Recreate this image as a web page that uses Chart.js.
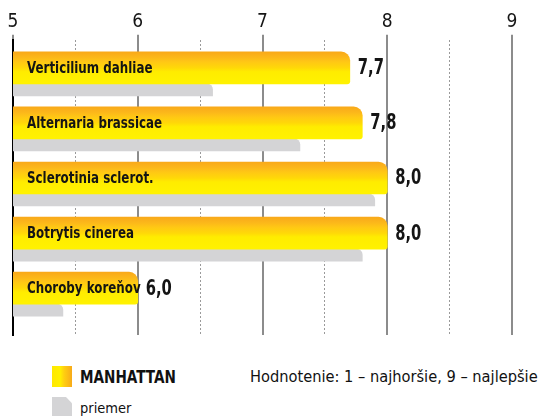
<!DOCTYPE html>
<html lang="sk">
<head>
    <meta charset="UTF-8">
    <title>Hodnotenie MANHATTAN</title>
    <script src="https://cdn.jsdelivr.net/npm/chart.js"></script>
    <style>
        html, body { margin: 0; padding: 0; background: #fff; }
        body { width: 544px; height: 416px; position: relative; overflow: hidden;
               font-family: "DejaVu Sans Condensed", sans-serif; color: #111; }
        .chart-wrap { position: absolute; left: 0; top: 0; width: 544px; height: 340px; }
        .legend-item { position: absolute; left: 52px; display: flex; align-items: center; }
        .swatch { width: 20px; height: 21px; margin-right: 8px; flex: none; }
        .swatch.yellow { background: linear-gradient(to right, #ffe800 0%, #fff000 40%, #ffcf10 60%, #f8aa1a 100%); }
        .swatch.grey { background: #d4d4d6; clip-path: polygon(0 0, 70% 0, 100% 30%, 100% 100%, 0 100%); }
        .txt { display: inline-block; transform-origin: left center; }
        .legend-item.manhattan { top: 366px; font-weight: bold; font-size: 18px; }
        .legend-item.manhattan .txt { transform: scaleX(0.84); }
        .legend-item.avg { top: 397px; font-size: 14.5px; }
        .note { position: absolute; left: 250px; top: 367px; font-size: 16.5px; }
        .note .txt { transform: scaleX(0.985); }
    </style>
</head>
<body>
    <div class="chart-wrap"><canvas id="chart"></canvas></div>
    <div class="legend-item manhattan"><span class="swatch yellow"></span><span class="txt">MANHATTAN</span></div>
    <div class="legend-item avg"><span class="swatch grey"></span><span class="txt">priemer</span></div>
    <div class="note"><span class="txt">Hodnotenie: 1 – najhoršie, 9 – najlepšie</span></div>

    <script>
    // data
    const categories = ['Verticilium dahliae', 'Alternaria brassicae', 'Sclerotinia sclerot.', 'Botrytis cinerea', 'Choroby koreňov'];
    const manhattan = [7.7, 7.8, 8.0, 8.0, 6.0];
    const priemer = [6.6, 7.3, 7.9, 7.8, 5.4];
    const xTicks = [5, 6, 7, 8, 9];

    const FONT = "'DejaVu Sans Condensed', sans-serif";

    // yellow bar gradient, one per bar
    function yellowFill(ctx) {
        const chart = ctx.chart;
        const y = chart.scales.y;
        if (!y || ctx.dataIndex === undefined) return '#ffe800';
        const c = y.getPixelForValue(ctx.dataIndex);
        if (!isFinite(c)) return '#ffe800';
        const g = chart.ctx.createLinearGradient(0, c - 32, 0, c);
        g.addColorStop(0, '#f9a91a');
        g.addColorStop(0.18, '#fcb81a');
        g.addColorStop(0.32, '#ffc814');
        g.addColorStop(0.5, '#ffd808');
        g.addColorStop(0.62, '#ffec00');
        g.addColorStop(1, '#fff200');
        return g;
    }

    // narrow text: squeeze the wide fallback font a bit
    function narrowText(ctx, text, x, y, squeeze) {
        const w = ctx.measureText(text).width;
        ctx.fillText(text, x, y, w * squeeze);
    }

    // category names inside bars, values after them
    const barLabels = {
        id: 'barLabels',
        afterDatasetsDraw(chart) {
            const ctx = chart.ctx;
            const meta = chart.getDatasetMeta(0);
            ctx.save();
            ctx.textBaseline = 'middle';
            ctx.textAlign = 'left';
            ctx.fillStyle = '#141414';
            meta.data.forEach((bar, i) => {
                ctx.font = 'bold 16.5px ' + FONT;
                narrowText(ctx, categories[i], chart.chartArea.left + 14, bar.y + 1, 0.8);
                ctx.font = 'bold 21px ' + FONT;
                narrowText(ctx, manhattan[i].toFixed(1).replace('.', ','), bar.x + 8, bar.y + 1, 0.78);
            });
            ctx.restore();
        }
    };

    new Chart(document.getElementById('chart'), {
        type: 'bar',
        data: {
            datasets: [{
                label: 'MANHATTAN',
                data: manhattan.map((v, i) => ({ x: v, y: i })),
                backgroundColor: yellowFill,
                barThickness: 32,
                borderSkipped: 'start',
                borderRadius: { topRight: 9, bottomRight: 3, topLeft: 0, bottomLeft: 0 },
                xAxisID: 'x'
            }, {
                label: 'priemer',
                data: priemer.map((v, i) => ({ x: v, y: i })),
                backgroundColor: '#d4d4d6',
                barThickness: 12,
                borderSkipped: 'start',
                borderRadius: { topRight: 6, bottomRight: 0, topLeft: 0, bottomLeft: 0 },
                xAxisID: 'x'
            }]
        },
        options: {
            indexAxis: 'y',
            responsive: true,
            maintainAspectRatio: false,
            animation: false,
            layout: { padding: { left: 13, right: 32, top: 10, bottom: 5 } },
            plugins: { legend: { display: false }, tooltip: { enabled: false } },
            scales: {
                x: {
                    type: 'linear',
                    position: 'top',
                    min: 5,
                    max: 9,
                    afterBuildTicks: s => { s.ticks = xTicks.map(v => ({ value: v })); },
                    ticks: {
                        color: '#161616',
                        font: { family: FONT, size: 19 },
                        padding: 1
                    },
                    grid: { color: '#8c8c8c', lineWidth: 2, drawTicks: true, tickLength: 5, tickColor: '#8c8c8c' },
                    border: { display: false }
                },
                x2: {
                    type: 'linear',
                    position: 'top',
                    min: 5,
                    max: 9,
                    afterBuildTicks: s => { s.ticks = xTicks.slice(0, -1).map(v => ({ value: v + 0.5 })); },
                    ticks: { display: false },
                    grid: { color: '#9a9a9a', lineWidth: 1, drawTicks: false },
                    border: { display: false, dash: [2, 2] }
                },
                y: {
                    type: 'linear',
                    reverse: true,
                    offset: false,
                    bounds: 'data',
                    min: -0.8,
                    max: 4.56,
                    ticks: { display: false },
                    grid: { display: false, drawTicks: false, offset: false },
                    border: { display: true, color: '#000', width: 2 }
                }
            }
        },
        plugins: [barLabels]
    });
    </script>
</body>
</html>
